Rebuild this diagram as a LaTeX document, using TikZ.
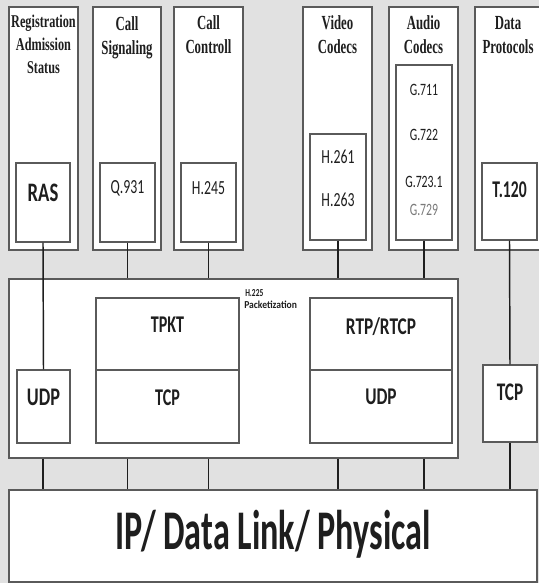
\documentclass[tikz,border=0pt]{standalone}
\usepackage{fontspec}
\setmainfont{Liberation Serif}
\setsansfont{Carlito}
\usepackage{graphicx}
\usetikzlibrary{positioning, fit, calc}
\definecolor{panelgray}{HTML}{E1E1E1}
\definecolor{edgegray}{HTML}{5A5A5A}
\definecolor{inkdark}{HTML}{1E1E1E}
\definecolor{codecgray}{HTML}{7A7A7A}
\newcommand{\squeeze}[2]{\scalebox{#1}[1]{#2}}
\tikzset{
  box/.style={draw=edgegray, fill=white, line width=1.1pt, inner sep=0pt},
  wire/.style={draw=inkdark, line width=1.1pt},
  caption/.style={font=\rmfamily\bfseries\fontsize{15}{18}\selectfont, align=center, inner sep=0pt, text=inkdark},
  proto/.style={font=\sffamily\fontsize{15}{18}\selectfont, inner sep=0pt, text=inkdark},
  protobold/.style={font=\sffamily\bfseries\fontsize{18}{20}\selectfont, inner sep=0pt, text=inkdark},
}

\begin{document}
\begin{tikzpicture}[x=0.75pt, y=-0.75pt]
  \fill[panelgray] (0,0) rectangle (539,583);
  \useasboundingbox (0,0) rectangle (539,583);

  % application columns
  \node[box, fit={(9,7) (78,250)}] (reg) {};
  \node[box, fit={(93,7) (161,250)}] (sig) {};
  \node[box, fit={(174,7) (243,250)}] (ctl) {};
  \node[box, fit={(303,7) (372,250)}] (vid) {};
  \node[box, fit={(389,7) (458,250)}] (aud) {};
  \node[box, fit={(475,7) (546,250)}] (dat) {};

  \node[box, fit={(16,163) (70,242)}] (ras) {};
  \node[box, fit={(100,163) (155,242)}] (q931) {};
  \node[box, fit={(181,163) (236,242)}] (h245) {};
  \node[box, fit={(310,134) (366,240)}] (vcod) {};
  \node[box, fit={(396,65) (452,240)}] (acod) {};
  \node[box, fit={(482,163) (537,240)}] (t120) {};

  % transport layer
  \node[box, fit={(9,279) (458,458)}] (pkt) {};
  \node[box, fit={(96,298) (239,370)}] (tpkt) {};
  \node[box, fit={(96,370) (239,443)}] (tcpm) {};
  \node[box, fit={(310,298) (452,370)}] (rtp) {};
  \node[box, fit={(310,370) (452,443)}] (udpm) {};
  \node[box, fit={(17,370) (70,443)}] (udpl) {};
  \node[box, fit={(483,365) (537,442)}] (tcpr) {};

  % network layer
  \node[box, fit={(9,490) (537,582)}] (phys) {};

  % connectors
  \draw[wire] (ras.south) -- (udpl.north);
  \draw[wire] (q931.south) -- (q931.south |- pkt.north);
  \draw[wire] (h245.south) -- (h245.south |- pkt.north);
  \draw[wire] (vcod.south) -- (vcod.south |- pkt.north);
  \draw[wire] (acod.south) -- (acod.south |- pkt.north);
  \draw[wire] (t120.south) -- (tcpr.north);
  \foreach \src in {ras, q931, h245, vcod, acod}
    \draw[wire] (\src.south |- pkt.south) -- (\src.south |- phys.north);
  \draw[wire] (tcpr.south) -- (tcpr.south |- phys.north);

  % column captions
  \node[caption, font=\rmfamily\bfseries\fontsize{13.5}{17}\selectfont] (regtxt) at (43.5,44.5)
    {\squeeze{0.68}{Registration}\\\squeeze{0.68}{Admission}\\\squeeze{0.68}{Status}};
  \node[caption] (sigtxt) at (127,37.5) {\squeeze{0.64}{Call}\\\squeeze{0.64}{Signaling}};
  \node[caption] (ctltxt) at (208.5,35) {\squeeze{0.64}{Call}\\\squeeze{0.64}{Controll}};
  \node[caption] (vidtxt) at (337.5,35) {\squeeze{0.64}{Video}\\\squeeze{0.64}{Codecs}};
  \node[caption] (audtxt) at (423.5,35) {\squeeze{0.64}{Audio}\\\squeeze{0.64}{Codecs}};
  \node[caption] (dattxt) at (508,35) {\squeeze{0.64}{Data}\\\squeeze{0.64}{Protocols}};

  % protocol labels
  \node[protobold, font=\sffamily\bfseries\fontsize{20}{22}\selectfont] (rastxt) at (43,193) {\squeeze{0.7}{RAS}};
  \node[proto] (q931txt) at (127.5,188) {\squeeze{0.69}{Q.931}};
  \node[proto] (h245txt) at (208.5,188) {\squeeze{0.69}{H.245}};
  \node[proto] (h261txt) at (338,157) {\squeeze{0.69}{H.261}};
  \node[proto] (h263txt) at (338,200) {\squeeze{0.69}{H.263}};
  \node[proto, font=\sffamily\fontsize{13}{15}\selectfont] (g711txt) at (424,90) {\squeeze{0.68}{G.711}};
  \node[proto, font=\sffamily\fontsize{13}{15}\selectfont] (g722txt) at (424,135) {\squeeze{0.68}{G.722}};
  \node[proto, font=\sffamily\fontsize{13}{15}\selectfont] (g7231txt) at (424,182) {\squeeze{0.68}{G.723.1}};
  \node[proto, font=\sffamily\fontsize{13}{15}\selectfont, text=codecgray] (g729txt) at (424,210) {\squeeze{0.68}{G.729}};
  \node[protobold] (t120txt) at (509.5,190) {\squeeze{0.65}{T.120}};

  \node[protobold] (tpkttxt) at (167.5,325) {\squeeze{0.67}{TPKT}};
  \node[protobold] (tcpmtxt) at (167.5,398) {\squeeze{0.67}{TCP}};
  \node[protobold] (rtptxt) at (381,327) {\squeeze{0.72}{RTP/RTCP}};
  \node[protobold] (udpmtxt) at (381,397) {\squeeze{0.72}{UDP}};
  \node[protobold, font=\sffamily\bfseries\fontsize{19}{21}\selectfont] (udpltxt) at (43.5,397) {\squeeze{0.72}{UDP}};
  \node[protobold, font=\sffamily\bfseries\fontsize{19}{21}\selectfont] (tcprtxt) at (510,392) {\squeeze{0.68}{TCP}};

  \node[protobold, font=\sffamily\bfseries\fontsize{8}{9}\selectfont, anchor=west] (h225txt) at (245,293) {\squeeze{0.7}{H.225}};
  \node[protobold, font=\sffamily\bfseries\fontsize{8}{9}\selectfont, anchor=west] (packtxt) at (244,305) {\squeeze{0.9}{Packetization}};

  \node[proto, font=\sffamily\bfseries\fontsize{42}{46}\selectfont] (phystxt) at (273,534) {\squeeze{0.61}{IP/ Data Link/ Physical}};
\end{tikzpicture}
\end{document}
